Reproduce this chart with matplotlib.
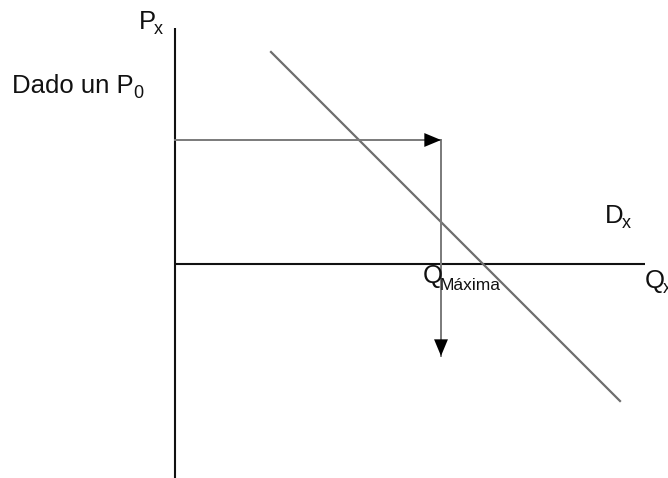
import matplotlib
matplotlib.use("Agg")
import matplotlib.pyplot as plt

plt.rcParams['font.family'] = ['Liberation Sans', 'DejaVu Sans']

# diagram geometry (pixel units, y grows downwards)
eje_p = [(175, 28), (175, 478)]
eje_q = [(175, 264), (645, 264)]
demanda = [(271, 52), (620, 401)]
flecha_p0 = [(175, 140), (441, 140)]
flecha_qmax = [(441, 140), (441, 356)]

# labels: (main text, subscript, x, baseline y, sub x, sub baseline y)
etiquetas = [
    ('P', 'x', 139, 29, 154, 34),
    ('Dado un P', '0', 12, 93, 133, 98),
    ('D', 'x', 605, 223, 622, 228),
    ('Q', 'x', 645, 288, 663, 293),
    ('Q', 'Máxima', 423, 283, 440, 290),
]

fig = plt.figure(figsize=(6.68, 4.78), dpi=100)
ax = fig.add_axes([0, 0, 1, 1])
ax.set_xlim(0, 668)
ax.set_ylim(478, 0)
ax.axis('off')

for seg in (eje_p, eje_q):
    xs, ys = zip(*seg)
    ax.plot(xs, ys, color='#111111', lw=1.5, solid_capstyle='butt')

xs, ys = zip(*demanda)
ax.plot(xs, ys, color='#6e6e6e', lw=1.6)

for seg in (flecha_p0, flecha_qmax):
    (x0, y0), (x1, y1) = seg
    ax.plot([x0, x1], [y0, y1], color='#7a7a7a', lw=1.4)
    ax.annotate('', xy=(x1, y1), xytext=(x0, y0),
                arrowprops=dict(arrowstyle='-|>,head_length=1.2,head_width=0.5',
                                color='black', lw=0, mutation_scale=10,
                                shrinkA=0, shrinkB=0))

for txt, sub, x, y, sx, sy in etiquetas:
    ax.text(x, y, txt, fontsize=18.5, va='baseline', ha='left', color='#111111')
    ax.text(sx, sy, sub, fontsize=12.5 if len(sub) > 1 else 13, va='baseline', ha='left', color='#111111')

fig.savefig('out.png', dpi=100)
